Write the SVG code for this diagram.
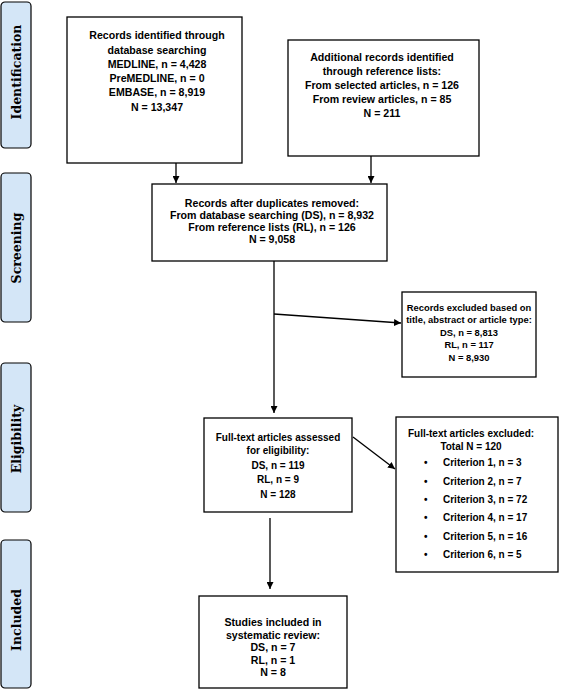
<svg xmlns="http://www.w3.org/2000/svg" width="568" height="699" viewBox="0 0 568 699">
<defs>
<style>
.box{fill:#fff;stroke:#000;stroke-width:1.3}
.side{fill:#d4e6f7;stroke:#000;stroke-width:1.2}
.t{font-family:"Liberation Sans",Arial,sans-serif;font-weight:bold;font-size:10.6px;text-anchor:middle;fill:#000}
.s{font-size:10px}
.xs{font-size:9.4px}
.l{text-anchor:start}
.lab{font-family:"DejaVu Serif","Liberation Serif",serif;font-weight:bold;font-size:12.5px;text-anchor:middle;fill:#000}
.c{fill:none;stroke:#000;stroke-width:1.3}
</style>
<marker id="ah" viewBox="0 0 10 10" refX="10" refY="5" markerWidth="7" markerHeight="7" markerUnits="userSpaceOnUse" orient="auto">
<path d="M0,0 L10,5 L0,10 z" fill="#000"/>
</marker>
</defs>
<rect width="568" height="699" fill="#fff"/>
<g id="phase-identification">
<rect class="side" x="1" y="2" width="30" height="146" rx="4"/>
<text class="lab" transform="translate(21,72) rotate(-90)">Identification</text>
</g>
<g id="phase-screening">
<rect class="side" x="1" y="173" width="30" height="149" rx="4"/>
<text class="lab" transform="translate(21,248) rotate(-90)">Screening</text>
</g>
<g id="phase-eligibility">
<rect class="side" x="1" y="363" width="30" height="149" rx="4"/>
<text class="lab" transform="translate(21,439) rotate(-90)">Eligibility</text>
</g>
<g id="phase-included">
<rect class="side" x="1" y="540" width="30" height="148" rx="4"/>
<text class="lab" transform="translate(21,620) rotate(-90)">Included</text>
</g>
<g id="connectors">
<line class="c" x1="176" y1="163" x2="176" y2="183" marker-end="url(#ah)"/>
<line class="c" x1="371" y1="156" x2="371" y2="183" marker-end="url(#ah)"/>
<line class="c" x1="274" y1="261" x2="274" y2="413" marker-end="url(#ah)"/>
<line class="c" x1="274" y1="314" x2="401" y2="323" marker-end="url(#ah)"/>
<line class="c" x1="353" y1="437" x2="395" y2="469" marker-end="url(#ah)"/>
<line class="c" x1="270" y1="518" x2="270" y2="589" marker-end="url(#ah)"/>
</g>
<g id="db-search">
<rect class="box" x="67" y="17" width="175" height="146"/>
<text class="t" x="157" y="39">Records identified through</text>
<text class="t" x="157" y="53.5">database searching</text>
<text class="t" x="157" y="68">MEDLINE, n = 4,428</text>
<text class="t" x="157" y="82">PreMEDLINE, n = 0</text>
<text class="t" x="157" y="96">EMBASE, n = 8,919</text>
<text class="t" x="157" y="110.5">N = 13,347</text>
</g>
<g id="ref-lists">
<rect class="box" x="288" y="40" width="191" height="116"/>
<text class="t" x="382" y="61">Additional records identified</text>
<text class="t" x="382" y="75">through reference lists:</text>
<text class="t" x="382" y="89">From selected articles, n = 126</text>
<text class="t" x="382" y="103">From review articles, n = 85</text>
<text class="t" x="382" y="117">N = 211</text>
</g>
<g id="dedup">
<rect class="box" x="152" y="184" width="235" height="77"/>
<text class="t" x="272" y="207">Records after duplicates removed:</text>
<text class="t" x="272" y="219">From database searching (DS), n = 8,932</text>
<text class="t" x="272" y="231">From reference lists (RL), n = 126</text>
<text class="t" x="272" y="243">N = 9,058</text>
</g>
<g id="excluded-screen">
<rect class="box" x="402" y="292" width="134" height="85"/>
<text class="t xs" x="469" y="311">Records excluded based on</text>
<text class="t xs" x="469" y="323">title, abstract or article type:</text>
<text class="t xs" x="469" y="336">DS, n = 8,813</text>
<text class="t xs" x="469" y="348">RL, n  = 117</text>
<text class="t xs" x="469" y="361">N = 8,930</text>
</g>
<g id="fulltext">
<rect class="box" x="204" y="418" width="148" height="94"/>
<text class="t s" x="278" y="441">Full-text articles assessed</text>
<text class="t s" x="278" y="454">for eligibility:</text>
<text class="t s" x="278" y="469">DS, n = 119</text>
<text class="t s" x="278" y="483">RL, n = 9</text>
<text class="t s" x="278" y="498">N = 128</text>
</g>
<g id="excluded-fulltext">
<rect class="box" x="396" y="417" width="162" height="155"/>
<text class="t s" x="471" y="437">Full-text articles excluded:</text>
<text class="t s" x="471" y="450">Total N = 120</text>
<g class="t s l">
<text x="424" y="466">•</text><text x="443" y="466">Criterion 1, n = 3</text>
<text x="424" y="485">•</text><text x="443" y="485">Criterion 2, n = 7</text>
<text x="424" y="503">•</text><text x="443" y="503">Criterion 3, n = 72</text>
<text x="424" y="521">•</text><text x="443" y="521">Criterion 4, n = 17</text>
<text x="424" y="540">•</text><text x="443" y="540">Criterion 5, n  = 16</text>
<text x="424" y="558">•</text><text x="443" y="558">Criterion 6, n = 5</text>
</g>
</g>
<g id="included">
<rect class="box" x="199" y="596" width="148" height="92"/>
<text class="t" x="273" y="626">Studies included in</text>
<text class="t" x="273" y="639">systematic review:</text>
<text class="t" x="273" y="651">DS, n = 7</text>
<text class="t" x="273" y="664">RL, n = 1</text>
<text class="t" x="273" y="676">N = 8</text>
</g>
</svg>
